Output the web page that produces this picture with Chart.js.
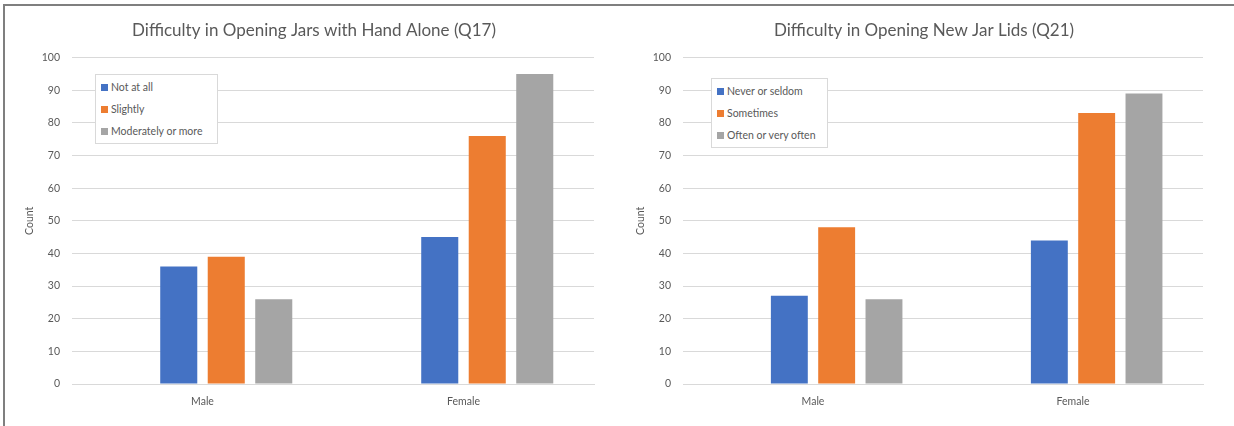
<!DOCTYPE html>
<html>
<head>
<meta charset="utf-8">
<script src="https://cdn.jsdelivr.net/npm/chart.js@4/dist/chart.umd.min.js"></script>
<style>
  body { margin: 0; width: 1234px; height: 426px; background: #fff; overflow: hidden; position: relative; font-family: Lato, sans-serif; }
  #frame { position: absolute; left: 3px; top: 4px; right: 0; bottom: 0; border-top: 2px solid #7f7f7f; border-left: 2px solid #7f7f7f; }
  .box { position: absolute; top: 0; }
  .legend { position: absolute; box-sizing: border-box; background: #fff; border: 1px solid #d9d9d9; padding: 1px 5px; font-size: 10.5px; color: #595959; }
  .legend div { height: 22px; line-height: 22px; white-space: nowrap; }
  .legend span { display: inline-block; width: 7px; height: 7px; margin-right: 3px; }
</style>
</head>
<body>
<div id="frame"></div>
<canvas id="q17" class="box" width="617" height="426" style="left:0"></canvas>
<canvas id="q21" class="box" width="617" height="426" style="left:611px"></canvas>
<div id="leg17" class="legend" style="left:95px; top:74px; width:123px"></div>
<div id="leg21" class="legend" style="left:711px; top:78px; width:117px"></div>
<script>
// categories and values
const categories = ['Male', 'Female'];

const q17Title = 'Difficulty in Opening Jars with Hand Alone (Q17)';
const q17Series = ['Not at all', 'Slightly', 'Moderately or more'];
const q17Male = [36, 39, 26];
const q17Female = [45, 76, 95];

const q21Title = 'Difficulty in Opening New Jar Lids (Q21)';
const q21Series = ['Never or seldom', 'Sometimes', 'Often or very often'];
const q21Male = [27, 48, 26];
const q21Female = [44, 83, 89];

const colors = ['#4472C4', '#ED7D31', '#A5A5A5'];
const textColor = '#595959';
const gridColor = '#d9d9d9';

function buildDatasets(names, male, female) {
    // the original has an empty first series, which pushes the bars right of the label
    const sets = [{ label: '', data: [null, null], backgroundColor: 'transparent' }];
    names.forEach((name, i) => {
        sets.push({
            label: name,
            data: [male[i], female[i]],
            backgroundColor: colors[i]
        });
    });
    sets.forEach(s => { s.categoryPercentage = 0.728; s.barPercentage = 0.78; });
    return sets;
}

function buildLegend(id, names) {
    document.getElementById(id).innerHTML = names.map((n, i) =>
        `<div><span style="background:${colors[i]}"></span>${n}</div>`).join('');
}

function createChart(id, title, names, male, female, padRight) {
    const ctx = document.getElementById(id).getContext('2d');
    new Chart(ctx, {
        type: 'bar',
        data: {
            labels: categories,
            datasets: buildDatasets(names, male, female)
        },
        options: {
            responsive: false,
            animation: false,
            layout: { padding: { left: 34, right: padRight, top: 6, bottom: 12 } },
            plugins: {
                legend: { display: false },
                tooltip: { enabled: false },
                title: {
                    display: true,
                    text: title,
                    color: textColor,
                    font: { family: 'Lato', size: 17, weight: 'normal' },
                    padding: { top: 14.4, bottom: 16.8 }
                }
            },
            scales: {
                x: {
                    grid: { display: false },
                    border: { color: gridColor },
                    ticks: { color: textColor, font: { family: 'Lato', size: 10.5 }, padding: 3 },
                    afterFit: s => { s.height = 30; }
                },
                y: {
                    min: 0,
                    max: 100,
                    grid: { color: gridColor, drawTicks: false },
                    border: { display: false },
                    ticks: { stepSize: 10, color: textColor, font: { family: 'Lato', size: 10.5 }, padding: 12 },
                    title: {
                        display: true,
                        text: 'Count',
                        color: textColor,
                        font: { family: 'Lato', size: 10.5 },
                        // pulled left so the chart title can sit a bit right of centre
                        padding: { top: -10.3, bottom: 4 }
                    },
                    afterFit: s => { s.width = 38; }
                }
            }
        }
    });
}

createChart('q17', q17Title, q17Series, q17Male, q17Female, 23);
createChart('q21', q21Title, q21Series, q21Male, q21Female, 25);
buildLegend('leg17', q17Series);
buildLegend('leg21', q21Series);
</script>
</body>
</html>
